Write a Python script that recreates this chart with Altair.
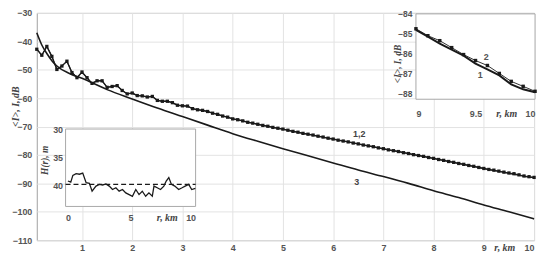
import altair as alt
import pandas as pd

# ---------------- data ----------------
R_MAIN = [round(0.1 * i, 1) for i in range(1, 101)]
I2_MAIN = [-42.8, -44.9, -41.8, -45.3, -49.9, -48.7, -47.0, -51.0, -52.8, -50.8,
           -52.8, -54.8, -53.9, -53.9, -56.2, -55.9, -55.6, -57.3, -58.5, -58.2,
           -59.1, -59.2, -59.6, -59.4, -60.8, -61.1, -61.1, -61.6, -62.5, -62.7,
           -62.8, -63.7, -64.1, -64.3, -64.7, -65.3, -65.7, -66.3, -66.7, -67.3,
           -67.6, -68.0, -68.5, -68.8, -69.2, -69.6, -69.9, -70.3, -70.6, -70.9,
           -71.3, -71.7, -72.0, -72.4, -72.7, -73.0, -73.4, -73.7, -74.1, -74.4,
           -74.8, -75.1, -75.4, -75.8, -76.1, -76.5, -76.8, -77.1, -77.5, -77.8,
           -78.2, -78.5, -78.8, -79.2, -79.5, -79.9, -80.2, -80.5, -80.9, -81.2,
           -81.6, -81.9, -82.3, -82.6, -83.0, -83.3, -83.7, -84.0, -84.4, -84.75,
           -85.1, -85.35, -85.7, -86.05, -86.35, -86.6, -87.0, -87.4, -87.65, -87.9]

R_INSET = [9.0, 9.1, 9.2, 9.3, 9.4, 9.5, 9.6, 9.7, 9.8, 9.9, 10.0]
I1_INSET = [-84.8, -85.15, -85.5, -85.8, -86.1, -86.5, -86.8, -87.1, -87.55, -87.8, -87.95]
I2_INSET = [-84.75, -85.1, -85.35, -85.7, -86.05, -86.35, -86.6, -87.0, -87.4, -87.65, -87.9]

I1_MAIN = I2_MAIN[:90] + I1_INSET[1:]

R3 = [0.1, 0.2, 0.3, 0.4, 0.5, 0.75, 1, 1.5, 2, 2.5, 3, 3.5, 4, 4.5, 5, 5.5,
      6, 6.5, 7, 7.5, 8, 8.5, 9, 9.5, 10]
I3 = [-37, -41.3, -44.3, -46.8, -48.7, -51.3, -53, -57, -60.3, -63.5, -66.5,
      -69.5, -72.5, -75.2, -77.8, -80.3, -82.8, -85.3, -87.6, -90, -92.6, -95,
      -97.6, -100, -102.5]

H_R = [0.18, 0.4, 0.56, 0.81, 1.07, 1.32, 1.58, 1.83, 2.04, 2.34, 2.6, 2.85,
       3.1, 3.36, 3.61, 3.87, 4.12, 4.38, 4.63, 4.89, 5.14, 5.4, 5.65, 5.9,
       6.16, 6.41, 6.67, 6.8, 7.05, 7.3, 7.56, 7.74, 7.94, 8.14, 8.4, 8.7,
       8.96, 9.2, 9.47, 9.7, 9.98]
H_VAL = [39.2, 39.4, 38.2, 37.9, 38.0, 37.8, 39.5, 39.6, 41.0, 40.1, 39.8, 39.9,
         39.7, 40.1, 40.7, 40.4, 41.0, 40.7, 41.3, 41.6, 41.9, 40.7, 41.6, 41.0,
         41.9, 41.3, 41.9, 40.1, 40.4, 40.7, 40.1, 39.2, 38.6, 39.8, 40.1, 40.7,
         40.4, 40.1, 39.8, 40.7, 40.5]
H_MEAN = 39.8

MAIN_LABELS = ["1,2", "3"]
MAIN_LABEL_R = [6.52, 6.47]
MAIN_LABEL_V = [-72.8, -89.7]
INSET_LABELS = ["2", "1"]
INSET_LABEL_R = [9.59, 9.54]
INSET_LABEL_V = [-86.15, -87.1]

# ---------------- styling ----------------
INK = "#1a1a1a"
LBL = "#555555"
LFONT = "Liberation Sans"
TFONT = "Liberation Serif"
W, H = 501, 229

def lab_axis(**kw):
    base = dict(labelFont=LFONT, labelFontWeight="bold", labelColor=LBL,
                labelFontSize=9, titleFont=TFONT, titleFontStyle="italic",
                titleFontWeight="bold", titleColor="#444444", titleFontSize=10,
                ticks=False, tickSize=0)
    base.update(kw)
    return alt.Axis(**base)

# ---------------- main plot ----------------
xm = alt.X("r:Q", scale=alt.Scale(domain=[0.1, 10], nice=False, zero=False),
           axis=lab_axis(values=list(range(1, 11)), format="d", grid=True,
                         gridColor="#e3e3e3", domain=False, labelPadding=3,
                         title="r, km", titleX=471, titleY=7,
                         titleBaseline="middle", titleAnchor="start", titleAlign="center"))
ym = alt.Y("v:Q", scale=alt.Scale(domain=[-110, -30], nice=False, zero=False),
           axis=lab_axis(values=list(range(-110, -29, 10)), format="d", grid=True,
                         gridColor="#e3e3e3", domain=False, labelPadding=5,
                         title="<I>, I, dB", titleX=-21, titleY=94,
                         titleAlign="center", titleBaseline="middle", titleAngle=270))

df2 = pd.DataFrame({"r": R_MAIN, "v": I2_MAIN})
df1 = pd.DataFrame({"r": R_MAIN, "v": I1_MAIN})
df3 = pd.DataFrame({"r": R3, "v": I3})
dfl = pd.DataFrame({"r": MAIN_LABEL_R, "v": MAIN_LABEL_V, "t": MAIN_LABELS})

main = alt.layer(
    alt.Chart(df3).mark_line(color=INK, strokeWidth=1.6, interpolate="monotone").encode(x=xm, y=ym),
    alt.Chart(df1).mark_line(color=INK, strokeWidth=1.4).encode(x=xm, y=ym),
    alt.Chart(df2).mark_line(color=INK, strokeWidth=1).encode(x=xm, y=ym),
    alt.Chart(df2).mark_point(shape="square", filled=True, size=11, color=INK, opacity=1).encode(x=xm, y=ym),
    alt.Chart(dfl).mark_text(font=LFONT, fontWeight="bold", fontSize=9, color="#444").encode(x=xm, y=ym, text="t:N"),
)

# ---------------- top-right inset ----------------
xi = alt.X("r:Q", scale=alt.Scale(domain=[9, 10], range=[382, 502], nice=False, zero=False),
           axis=lab_axis(values=[9, 9.5, 10], format="~g", grid=False, domain=False,
                         orient="bottom", offset=-(H - 87), labelPadding=10, zindex=1,
                         title="r, km", titleX=473, titleY=14, titleBaseline="middle",
                         titleAlign="center", titleAnchor="start"))
yi = alt.Y("v:Q", scale=alt.Scale(domain=[-88.3, -84], range=[87, 1], nice=False, zero=False),
           axis=lab_axis(values=[-88, -87, -86, -85, -84], format="d", grid=False,
                         domain=False, orient="left", offset=-382, labelPadding=4,
                         zindex=1, labelFontSize=8.5,
                         title="<I>, I, dB", titleX=-19, titleY=51, titleFontSize=9.5,
                         titleAlign="center", titleBaseline="middle", titleAngle=270))

dfi1 = pd.DataFrame({"r": R_INSET, "v": I1_INSET})
dfi2 = pd.DataFrame({"r": R_INSET, "v": I2_INSET})
dfil = pd.DataFrame({"r": INSET_LABEL_R, "v": INSET_LABEL_V, "t": INSET_LABELS})
frame1 = pd.DataFrame({"r": [9], "r2": [10], "v": [-84], "v2": [-88.3]})

inset1 = alt.layer(
    alt.Chart(frame1).mark_rect(fill="white", stroke="#a8a8a8", strokeWidth=1).encode(
        x=xi, x2="r2:Q", y=yi, y2="v2:Q"),
    alt.Chart(dfi1).mark_line(color=INK, strokeWidth=2).encode(x=xi, y=yi),
    alt.Chart(dfi2).mark_line(color=INK, strokeWidth=0.9).encode(x=xi, y=yi),
    alt.Chart(dfi2).mark_point(shape="square", filled=True, size=12, color=INK, opacity=1).encode(x=xi, y=yi),
    alt.Chart(dfil).mark_text(font=LFONT, fontWeight="bold", fontSize=9, color="#555").encode(x=xi, y=yi, text="t:N"),
)

# ---------------- bottom-left inset ----------------
xh = alt.X("r:Q", scale=alt.Scale(domain=[0, 10], range=[29, 160], nice=False, zero=False),
           axis=lab_axis(values=[0, 5, 10], format="d", grid=False, domain=False,
                         orient="bottom", offset=-(H - 195), labelPadding=7, zindex=1,
                         title="r, km", titleX=131, titleY=11, titleBaseline="middle",
                         titleAlign="center", titleAnchor="start"))
yh = alt.Y("h:Q", scale=alt.Scale(domain=[30, 43.7], range=[117, 195], nice=False, zero=False),
           axis=lab_axis(values=[30, 35, 40], format="d", grid=False, domain=False,
                         orient="left", offset=-29, labelPadding=3, zindex=1,
                         title="H(r), m", titleX=-21, titleY=148, titleFontSize=9.5,
                         titleAlign="center", titleBaseline="middle", titleAngle=270))

dfh = pd.DataFrame({"r": H_R, "h": H_VAL})
dfmean = pd.DataFrame({"r": [0, 10], "h": [H_MEAN, H_MEAN]})
frame2 = pd.DataFrame({"r": [0], "r2": [10], "h": [30], "h2": [43.7]})

inset2 = alt.layer(
    alt.Chart(frame2).mark_rect(fill="white", stroke="#a8a8a8", strokeWidth=1).encode(
        x=xh, x2="r2:Q", y=yh, y2="h2:Q"),
    alt.Chart(dfmean).mark_line(color=INK, strokeWidth=1.3, strokeDash=[5, 3]).encode(x=xh, y=yh),
    alt.Chart(dfh).mark_line(color=INK, strokeWidth=1.3).encode(x=xh, y=yh),
)

chart = alt.layer(main, inset1, inset2).resolve_scale(
    x="independent", y="independent"
).properties(
    width=W, height=H, autosize="none",
    padding={"left": 29, "top": 4, "right": 8, "bottom": 16},
).configure_view(stroke="#a0a0a0", strokeWidth=1)

chart.save("out.html", embed_options={"renderer": "svg", "actions": False})
